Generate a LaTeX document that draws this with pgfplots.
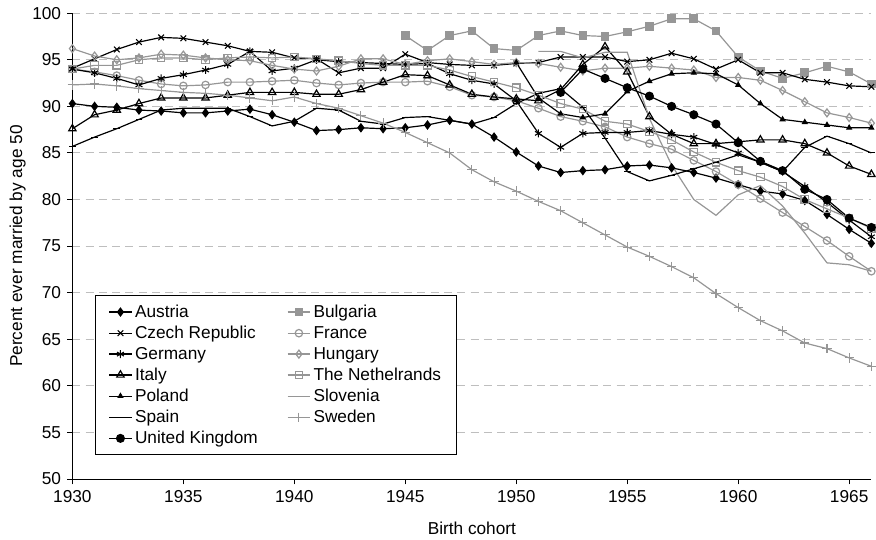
\documentclass[border=0pt]{standalone}
\usepackage{fontspec}
\setmainfont{Liberation Sans}
\usepackage{pgfplots}
\pgfplotsset{compat=1.18}
\definecolor{sgray}{RGB}{150,150,150}
\definecolor{gridgray}{RGB}{190,190,190}

\pgfplotsset{
  blk/.style={black, line width=0.9pt, mark options={solid, line width=0.8pt}},
  gry/.style={sgray, line width=0.9pt, mark options={solid, line width=0.8pt}},
}

\begin{document}
\begin{tikzpicture}
\begin{axis}[
  scale only axis, width=602pt, height=351pt,
  xmin=1930, xmax=1966, ymin=50, ymax=100,
  axis lines=left, axis line style={-, black, line width=0.8pt},
  xtick={1930,1935,...,1965}, ytick={50,55,...,100},
  tick align=outside, major tick length=4pt,
  tick style={black, line width=0.8pt},
  ymajorgrids, grid style={gridgray, dash pattern=on 6pt off 4pt, line width=0.8pt},
  /pgf/number format/1000 sep={},
  /pgf/number format/assume math mode=true,
  font=\fontsize{13}{15.5}\selectfont,
  xticklabel style={yshift=-1pt},
  yticklabel style={xshift=-1pt},
  xlabel style={yshift=-8pt},
  ylabel shift=-2pt,
  xlabel={Birth cohort}, ylabel={Percent ever married by age 50},
  legend columns=2, legend cell align=left,
  legend style={at={(0.028,0.395)}, anchor=north west, draw=black,
    line width=0.75pt, fill=white, inner xsep=10pt, inner ysep=5pt,
    /tikz/every even column/.append style={column sep=20pt},
    /tikz/row sep=1pt},
]
% Austria
\addplot[blk, mark=diamond*, mark size=3pt] coordinates {
(1930,90.3)(1931,90.0)(1932,89.9)(1933,89.6)(1934,89.5)(1935,89.3)(1936,89.3)(1937,89.5)(1938,89.7)(1939,89.1)
(1940,88.3)(1941,87.4)(1942,87.5)(1943,87.7)(1944,87.6)(1945,87.7)(1946,88.0)(1947,88.5)(1948,88.1)(1949,86.7)
(1950,85.1)(1951,83.6)(1952,82.9)(1953,83.1)(1954,83.2)(1955,83.6)(1956,83.7)(1957,83.4)(1958,82.9)(1959,82.3)
(1960,81.6)(1961,80.9)(1962,80.6)(1963,79.9)(1964,78.4)(1965,76.8)(1966,75.3)};
\addlegendentry{Austria}
% Bulgaria
\addplot[gry, mark=square*, mark size=2.8pt, mark options={fill=sgray}] coordinates {
(1945,97.6)(1946,96.0)(1947,97.6)(1948,98.1)(1949,96.2)(1950,96.0)(1951,97.6)(1952,98.1)(1953,97.6)(1954,97.5)
(1955,98.0)(1956,98.6)(1957,99.4)(1958,99.4)(1959,98.1)(1960,95.3)(1961,93.8)(1962,93.0)(1963,93.6)(1964,94.3)
(1965,93.7)(1966,92.4)};
\addlegendentry{Bulgaria}
% Czech Republic
\addplot[blk, mark=x, mark size=3pt] coordinates {
(1930,94.1)(1931,95.1)(1932,96.1)(1933,96.9)(1934,97.4)(1935,97.3)(1936,96.9)(1937,96.5)(1938,95.9)(1939,95.8)
(1940,95.2)(1941,95.1)(1942,93.6)(1943,94.1)(1944,94.1)(1945,95.6)(1946,94.7)(1947,94.5)(1948,94.4)(1949,94.4)
(1950,94.6)(1951,94.7)(1952,95.3)(1953,95.3)(1954,95.3)(1955,94.8)(1956,95.0)(1957,95.7)(1958,95.1)(1959,94.0)
(1960,95.0)(1961,93.6)(1962,93.6)(1963,92.9)(1964,92.6)(1965,92.2)(1966,92.1)};
\addlegendentry{Czech Republic}
% France
\addplot[gry, mark=o, mark size=2.8pt, mark options={fill=white}] coordinates {
(1930,94.0)(1931,93.7)(1932,93.3)(1933,92.8)(1934,92.4)(1935,92.2)(1936,92.3)(1937,92.6)(1938,92.6)(1939,92.7)
(1940,92.8)(1941,92.5)(1942,92.3)(1943,92.5)(1944,92.6)(1945,92.6)(1946,92.7)(1947,92.1)(1948,91.2)(1949,91.0)
(1950,90.6)(1951,89.8)(1952,88.9)(1953,88.4)(1954,87.8)(1955,86.7)(1956,86.0)(1957,85.4)(1958,84.2)(1959,83.0)
(1960,81.6)(1961,80.1)(1962,78.6)(1963,77.1)(1964,75.6)(1965,73.9)(1966,72.3)};
\addlegendentry{France}
% Germany
\addplot[blk, mark=asterisk, mark size=3pt] coordinates {
(1930,94.0)(1931,93.6)(1932,93.0)(1933,92.3)(1934,93.0)(1935,93.4)(1936,93.9)(1937,94.5)(1938,95.9)(1939,93.8)
(1940,94.1)(1941,95.0)(1942,94.8)(1943,94.7)(1944,94.6)(1945,94.5)(1946,94.6)(1947,93.5)(1948,92.8)(1949,92.4)
(1950,90.6)(1951,87.1)(1952,85.6)(1953,87.1)(1954,87.2)(1955,87.2)(1956,87.4)(1957,87.0)(1958,86.7)(1959,85.9)
(1960,85.0)(1961,84.0)(1962,83.0)(1963,81.4)(1964,79.7)(1965,77.8)(1966,76.0)};
\addlegendentry{Germany}
% Hungary
\addplot[gry, mark=diamond, mark size=3pt, mark options={fill=white}] coordinates {
(1930,96.2)(1931,95.4)(1932,95.0)(1933,95.2)(1934,95.6)(1935,95.5)(1936,95.2)(1937,95.0)(1938,94.9)(1939,94.4)
(1940,94.0)(1941,93.8)(1942,94.3)(1943,95.1)(1944,95.1)(1945,94.5)(1946,94.9)(1947,95.1)(1948,94.8)(1949,94.5)
(1950,94.7)(1951,94.6)(1952,94.2)(1953,93.8)(1954,94.1)(1955,94.1)(1956,94.3)(1957,94.1)(1958,93.9)(1959,93.1)
(1960,93.1)(1961,92.8)(1962,91.7)(1963,90.5)(1964,89.3)(1965,88.8)(1966,88.2)};
\addlegendentry{Hungary}
% Italy
\addplot[blk, mark=triangle, mark size=3.2pt, mark options={fill=white}] coordinates {
(1930,87.6)(1931,89.1)(1932,89.6)(1933,90.3)(1934,90.9)(1935,90.9)(1936,90.9)(1937,91.2)(1938,91.5)(1939,91.5)
(1940,91.5)(1941,91.3)(1942,91.3)(1943,91.8)(1944,92.6)(1945,93.4)(1946,93.3)(1947,92.3)(1948,91.3)(1949,91.0)
(1950,90.8)(1951,90.6)(1952,91.8)(1953,94.5)(1954,96.4)(1955,93.7)(1956,88.9)(1957,87.0)(1958,86.0)(1959,86.0)
(1960,86.2)(1961,86.4)(1962,86.4)(1963,86.0)(1964,85.0)(1965,83.6)(1966,82.7)};
\addlegendentry{Italy}
% The Netherlands
\addplot[gry, mark=square, mark size=2.8pt, mark options={fill=white}] coordinates {
(1930,94.0)(1931,94.4)(1932,94.4)(1933,95.0)(1934,95.2)(1935,95.2)(1936,95.0)(1937,95.2)(1938,95.3)(1939,95.2)
(1940,95.3)(1941,95.1)(1942,94.9)(1943,94.6)(1944,94.4)(1945,94.4)(1946,94.4)(1947,93.9)(1948,93.2)(1949,92.6)
(1950,92.0)(1951,91.2)(1952,90.3)(1953,89.7)(1954,88.4)(1955,88.1)(1956,87.3)(1957,86.4)(1958,85.1)(1959,84.0)
(1960,83.1)(1961,82.4)(1962,81.4)(1963,80.0)(1964,79.0)(1965,78.0)(1966,76.9)};
\addlegendentry{The Nethelrands\hspace{3pt}}
% Poland
\addplot[blk, mark=triangle*, mark size=2pt] coordinates {
(1950,94.7)(1951,90.9)(1952,89.2)(1953,88.8)(1954,89.2)(1955,91.6)(1956,92.7)(1957,93.5)(1958,93.6)(1959,93.5)
(1960,92.3)(1961,90.3)(1962,88.6)(1963,88.3)(1964,88.0)(1965,87.7)(1966,87.7)};
\addlegendentry{Poland}
% Slovenia
\addplot[gry, no markers] coordinates {
(1951,95.9)(1952,95.9)(1953,95.2)(1954,95.8)(1955,95.8)(1956,88.7)(1957,83.7)(1958,80.0)(1959,78.3)
(1960,80.5)(1961,81.5)(1962,79.3)(1963,76.4)(1964,73.2)(1965,73.0)(1966,72.3)};
\addlegendentry{Slovenia}
% Spain
\addplot[blk, mark=-, mark size=2.5pt] coordinates {
(1930,85.7)(1931,86.7)(1932,87.6)(1933,88.6)(1934,89.6)(1935,89.8)(1936,89.8)(1937,89.8)(1938,88.9)(1939,87.9)
(1940,88.4)(1941,89.8)(1942,89.6)(1943,88.4)(1944,88.1)(1945,88.8)(1946,88.9)(1947,88.5)(1948,88.1)(1949,88.8)
(1950,90.3)(1951,91.4)(1952,91.9)(1953,89.9)(1954,86.6)(1955,83.0)(1956,82.0)(1957,82.6)(1958,83.3)(1959,84.0)
(1960,84.8)(1961,84.0)(1962,83.0)(1963,85.6)(1964,86.8)(1965,86.0)(1966,85.0)};
\addlegendentry{Spain}
% Sweden
\addplot[gry, mark=+, mark size=3.5pt] coordinates {
(1930,92.3)(1931,92.4)(1932,92.2)(1933,91.9)(1934,91.7)(1935,91.5)(1936,91.4)(1937,91.2)(1938,90.9)(1939,90.6)
(1940,91.0)(1941,90.3)(1942,89.8)(1943,89.0)(1944,88.2)(1945,87.2)(1946,86.1)(1947,85.0)(1948,83.2)(1949,81.9)
(1950,80.9)(1951,79.8)(1952,78.8)(1953,77.5)(1954,76.2)(1955,74.9)(1956,73.9)(1957,72.8)(1958,71.6)(1959,69.9)
(1960,68.4)(1961,67.0)(1962,65.9)(1963,64.6)(1964,64.0)(1965,63.0)(1966,62.1)};
\addlegendentry{Sweden}
% United Kingdom
\addplot[blk, mark=*, mark size=3pt] coordinates {
(1952,91.5)(1953,94.0)(1954,93.0)(1955,92.0)(1956,91.1)(1957,90.0)(1958,89.1)(1959,88.1)
(1960,86.1)(1961,84.1)(1962,83.1)(1963,81.1)(1964,80.0)(1965,78.0)(1966,77.0)};
\addlegendentry{United Kingdom}
\end{axis}
\path ([xshift=-4pt]current bounding box.west) ([yshift=2pt]current bounding box.north);
\end{tikzpicture}
\end{document}
